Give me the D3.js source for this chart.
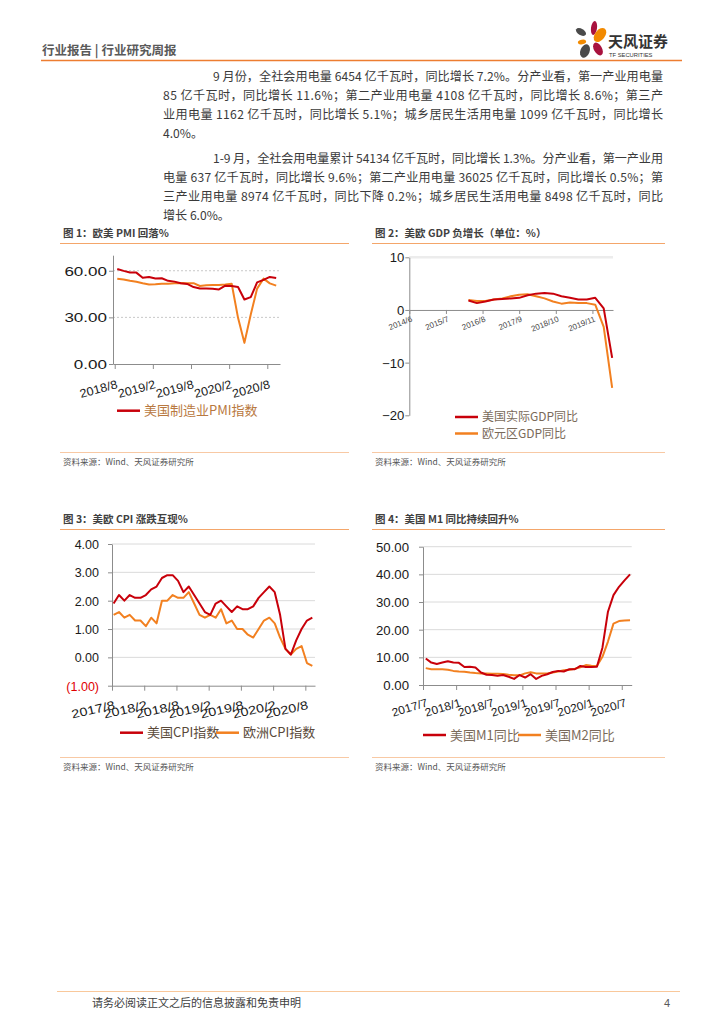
<!DOCTYPE html>
<html>
<head>
<meta charset="utf-8">
<script src="https://cdn.jsdelivr.net/npm/d3@7"></script>
<style>
  body { margin: 0; background: #fff; }
  svg { display: block; }
</style>
</head>
<body>
<script>
// helpers for month labels
function monthList(y, m, n) {
  const out = [];
  for (let k = 0; k < n; k++) {
    const t = (m - 1) + k;
    out.push((y + Math.floor(t / 12)) + '/' + (t % 12 + 1));
  }
  return out;
}
function monthIndex(label, base) {
  const [y, m] = label.split('/').map(Number);
  const [by, bm] = base.split('/').map(Number);
  return (y - by) * 12 + (m - bm);
}

// data: chart 1 PMI
const pmiMonths = monthList(2018, 8, 26);
const usPmi = [61.1, 59.9, 58.9, 58.8, 55.5, 56.0, 55.0, 55.2, 53.5, 53.0, 52.0, 51.5, 49.5,
               48.6, 48.5, 48.4, 48.0, 50.4, 50.2, 49.5, 41.5, 43.0, 52.5, 54.1, 56.0, 55.4];
const euPmi = [54.8, 54.3, 53.5, 52.9, 51.9, 51.1, 51.3, 51.6, 51.6, 51.9, 52.1, 51.9, 52.0,
               50.2, 50.7, 50.8, 50.9, 51.1, 51.6, 29.7, 13.6, 31.9, 48.5, 54.9, 51.9, 50.4];
const pmiTicks = ['2018/8', '2019/2', '2019/8', '2020/2', '2020/8'];

// data: chart 2 GDP
const gdpQuarters = ['2016/3', '2016/6', '2016/9', '2016/12', '2017/3', '2017/6', '2017/9', '2017/12', '2018/3',
                     '2018/6', '2018/9', '2018/12', '2019/3', '2019/6', '2019/9', '2019/12', '2020/3', '2020/6'];
const usGdp = [1.8, 1.3, 1.6, 2.0, 2.1, 2.2, 2.3, 2.8, 3.1, 3.2, 3.1, 2.6, 2.3, 2.0, 2.0, 2.3, 0.3, -9.1];
const euGdp = [1.9, 1.7, 1.7, 2.0, 2.2, 2.6, 2.9, 3.0, 2.6, 2.2, 1.6, 1.2, 1.4, 1.3, 1.3, 1.0, -3.2, -14.8];
const gdpTicks = ['2014/6', '2015/7', '2016/8', '2017/9', '2018/10', '2019/11'];

// data: chart 3 CPI
const cpiMonths = monthList(2017, 8, 38);
const usCpi = [1.9, 2.2, 2.0, 2.2, 2.1, 2.1, 2.2, 2.4, 2.5, 2.8, 2.9, 2.9, 2.7, 2.3, 2.5, 2.2, 1.9, 1.6, 1.5,
               1.9, 2.0, 1.8, 1.6, 1.8, 1.7, 1.7, 1.8, 2.1, 2.3, 2.5, 2.3, 1.5, 0.3, 0.1, 0.6, 1.0, 1.3, 1.4];
const euCpi = [1.5, 1.6, 1.4, 1.5, 1.3, 1.3, 1.1, 1.4, 1.2, 2.0, 2.0, 2.2, 2.1, 2.1, 2.3, 1.9, 1.5, 1.4, 1.5,
               1.4, 1.7, 1.2, 1.3, 1.0, 1.0, 0.8, 0.7, 1.0, 1.3, 1.4, 1.2, 0.7, 0.3, 0.1, 0.3, 0.4, -0.2, -0.3];
const cpiTicks = ['2017/8', '2018/2', '2018/8', '2019/2', '2019/8', '2020/2', '2020/8'];

// data: chart 4 M1 / M2
const mMonths = monthList(2017, 7, 38);
const usM1 = [9.6, 8.1, 7.6, 8.1, 8.6, 8.1, 8.0, 6.5, 6.6, 6.3, 4.5, 3.7, 3.6, 3.3, 3.6, 3.0, 2.2, 3.6, 2.7,
              3.9, 2.2, 3.3, 3.9, 4.7, 5.1, 4.9, 5.7, 5.7, 6.9, 6.5, 6.5, 6.6, 13.5, 26.5, 32.5, 35.5, 37.8, 40.0];
const usM2 = [6.1, 5.7, 5.7, 5.7, 5.5, 5.1, 4.9, 4.8, 4.5, 4.3, 4.2, 4.2, 4.1, 4.1, 4.0, 3.7, 3.5, 3.5, 4.2,
              4.6, 4.2, 4.2, 4.2, 4.5, 4.9, 5.3, 5.5, 5.9, 6.4, 7.2, 7.0, 6.9, 10.2, 15.7, 22.2, 23.1, 23.3, 23.4];
const mTicks = ['2017/7', '2018/1', '2018/7', '2019/1', '2019/7', '2020/1', '2020/7'];

// text
const para1 = [
  '9 月份，全社会用电量 6454 亿千瓦时，同比增长 7.2%。分产业看，第一产业用电量',
  '85 亿千瓦时，同比增长 11.6%；第二产业用电量 4108 亿千瓦时，同比增长 8.6%；第三产',
  '业用电量 1162 亿千瓦时，同比增长 5.1%；城乡居民生活用电量 1099 亿千瓦时，同比增长',
  '4.0%。'
];
const para2 = [
  '1-9 月，全社会用电量累计 54134 亿千瓦时，同比增长 1.3%。分产业看，第一产业用',
  '电量 637 亿千瓦时，同比增长 9.6%；第二产业用电量 36025 亿千瓦时，同比增长 0.5%；第',
  '三产业用电量 8974 亿千瓦时，同比下降 0.2%；城乡居民生活用电量 8498 亿千瓦时，同比',
  '增长 6.0%。'
];

// const
const CN = "'Noto Sans CJK SC','Noto Sans',sans-serif";
const NUM = "'Liberation Sans',Arial,sans-serif";
const RED = '#c8000a';
const ORANGE = '#f28020';
const AXIS = '#8c8c8c';

const svg = d3.select('body').append('svg')
  .attr('width', 724)
  .attr('height', 1024)

// header
svg.append('text')
  .attr('x', 42).attr('y', 55)
  .attr('font-family', CN).attr('font-size', 12.5).attr('font-weight', 'bold').attr('fill', '#5a5a5a')
  .text('行业报告 | 行业研究周报')
svg.append('line')
  .attr('x1', 41).attr('x2', 682).attr('y1', 60.5).attr('y2', 60.5)
  .attr('stroke', '#ed7d31').attr('stroke-width', 1.6)

// logo
const logo = svg.append('g')
const petals = [
  [594, 28, 3, 7, 8, '#a8123e'],
  [600, 35, 5, 8, 38, '#f28a00'],
  [581, 32, 5.5, 3.2, 30, '#4a4a4a'],
  [582, 42, 4.2, 2.2, -12, '#f28a00'],
  [585, 51, 4.6, 7, 22, '#4a4a4a'],
  [598, 49, 4, 7, -30, '#a8123e']
]
logo.selectAll('ellipse').data(petals).join('ellipse')
  .attr('cx', 0).attr('cy', 0)
  .attr('rx', d => d[2]).attr('ry', d => d[3])
  .attr('transform', d => `translate(${d[0]},${d[1]}) rotate(${d[4]})`)
  .attr('fill', d => d[5])
logo.append('text').attr('x', 608).attr('y', 47)
  .attr('font-family', CN).attr('font-size', 15).attr('font-weight', 'bold').attr('fill', '#333')
  .text('天风证券')
logo.append('text').attr('x', 609).attr('y', 57)
  .attr('font-family', NUM).attr('font-size', 5.8).attr('fill', '#333')
  .text('TF SECURITIES')

// paragraphs
function paragraph(lines, y0) {
  lines.forEach((t, i) => {
    const x0 = i === 0 ? 213 : 163
    const txt = svg.append('text')
      .attr('x', x0).attr('y', y0 + i * 19)
      .attr('font-family', CN).attr('font-size', 12.1).attr('fill', '#3a3a3a')
      .text(t)
    if (i < lines.length - 1) txt.attr('textLength', 663 - x0).attr('lengthAdjust', 'spacing')
  })
}
paragraph(para1, 81)
paragraph(para2, 163)

// chart frame: title, rules, source
function frame(left, right, titleY, title, bottomY) {
  svg.append('text').attr('x', left + 3).attr('y', titleY)
    .attr('font-family', CN).attr('font-size', 10.5).attr('font-weight', 'bold').attr('fill', '#404040')
    .text(title)
  svg.append('line').attr('x1', left).attr('x2', right).attr('y1', titleY + 6.5).attr('y2', titleY + 6.5)
    .attr('stroke', '#f4a66a').attr('stroke-width', 1)
  svg.append('line').attr('x1', left).attr('x2', right).attr('y1', bottomY).attr('y2', bottomY)
    .attr('stroke', '#f8c9a4').attr('stroke-width', 1)
  svg.append('text').attr('x', left + 3).attr('y', bottomY + 12.5)
    .attr('font-family', CN).attr('font-size', 8.5).attr('fill', '#555')
    .text('资料来源：Wind、天风证券研究所')
}

function legendItem(x, y, color, label, textColor, size) {
  svg.append('line').attr('x1', x).attr('x2', x + 23).attr('y1', y).attr('y2', y)
    .attr('stroke', color).attr('stroke-width', 2.5)
  svg.append('text').attr('x', x + 27).attr('y', y).attr('dy', '0.36em')
    .attr('font-family', CN).attr('font-size', size).attr('fill', textColor)
    .text(label)
}

function styleAxis(g) {
  g.select('.domain').attr('stroke', AXIS)
  g.selectAll('.tick line').attr('stroke', AXIS)
}

function yAxis(x0, y, ticks, fmt, o) {
  svg.append('g')
    .attr('transform', `translate(${x0},0)`)
    .call(d3.axisLeft(y).tickValues(ticks).tickSize(4).tickSizeOuter(0).tickFormat(fmt))
    .call(styleAxis)
    .call(g => g.selectAll('.tick text')
      .attr('x', null).attr('dy', '0.36em')
      .attr('transform', `translate(${-o.gap},0) scale(${o.sx},1)`)
      .attr('font-family', NUM).attr('font-size', o.size)
      .attr('fill', d => o.colorOf ? o.colorOf(d) : '#1a1a1a'))
}

function xAxis(y0, x, ticks, labels, o) {
  svg.append('g')
    .attr('transform', `translate(0,${y0})`)
    .call(d3.axisBottom(x).tickValues(ticks).tickSize(o.tick).tickSizeOuter(0).tickFormat((d, i) => labels[i]))
    .call(styleAxis)
    .call(g => g.selectAll('.tick text')
      .attr('y', null).attr('dy', null)
      .attr('text-anchor', 'end')
      .attr('transform', `translate(${o.dx},${o.dy}) rotate(${o.rot}) scale(${o.sx},1)`)
      .attr('font-family', NUM).attr('font-size', o.size).attr('fill', o.color))
}

function grid(x1, x2, y, ticks, color, dash, w) {
  svg.append('g').selectAll('line').data(ticks).join('line')
    .attr('x1', x1).attr('x2', x2)
    .attr('y1', d => y(d)).attr('y2', d => y(d))
    .attr('stroke', color).attr('stroke-width', w || 1)
    .attr('stroke-dasharray', dash)
}

function series(values, xOf, y, color) {
  svg.append('path')
    .datum(values)
    .attr('fill', 'none')
    .attr('stroke', color)
    .attr('stroke-width', 2)
    .attr('stroke-linejoin', 'round')
    .attr('d', d3.line().x((d, i) => xOf(i)).y(d => y(d)))
}

// ---- chart 1 ----
frame(60, 349, 237, '图 1：欧美 PMI 回落%', 452.5)
const x1 = d3.scaleLinear().domain([-0.27, 26]).range([113, 280])
const y1 = d3.scaleLinear().domain([0, 70]).range([364, 255.2])
grid(113, 280, y1, [60, 30], '#c8c8c8', '2,2')
yAxis(113, y1, [0, 30, 60], d3.format('.2f'), { gap: 6, size: 12, sx: 1.42 })
xAxis(364, x1, pmiTicks.map(t => monthIndex(t, '2018/8')), pmiTicks,
  { tick: 5, dx: 3, dy: 24, rot: -15, sx: 1.05, size: 12, color: '#1a1a1a' })
series(euPmi, i => x1(monthIndex(pmiMonths[i], '2018/8') + 0.4), y1, ORANGE)
series(usPmi, i => x1(monthIndex(pmiMonths[i], '2018/8') + 0.4), y1, RED)
legendItem(117, 410.7, RED, '美国制造业PMI指数', '#b87840', 13)

// ---- chart 2 ----
frame(372, 665, 237, '图 2：美欧 GDP 负增长（单位：%）', 452.5)
const x2 = d3.scaleLinear().domain([0, 72.3]).range([409.3, 613])
const y2 = d3.scaleLinear().domain([-20, 10]).range([415.3, 257.3])
grid(409.3, 613, y2, [10], '#ececec', null, 2.5)
yAxis(409.3, y2, [10, 0, -10, -20], d3.format('d'), { gap: 5, size: 12.5, sx: 1.05 })
xAxis(y2(0), x2, gdpTicks.map(t => monthIndex(t, '2014/6')), gdpTicks,
  { tick: 4, dx: 3, dy: 11, rot: -22, sx: 1, size: 8, color: '#444' })
series(euGdp, i => x2(monthIndex(gdpQuarters[i], '2014/6')), y2, ORANGE)
series(usGdp, i => x2(monthIndex(gdpQuarters[i], '2014/6')), y2, RED)
legendItem(455, 417, RED, '美国实际GDP同比', '#7a6a5a', 12)
legendItem(455, 433.5, ORANGE, '欧元区GDP同比', '#7a6a5a', 12)

// ---- chart 3 ----
frame(60, 349, 523, '图 3：美欧 CPI 涨跌互现%', 757.5)
const x3 = d3.scaleLinear().domain([0, 37.8]).range([112, 315])
const y3 = d3.scaleLinear().domain([-1, 4]).range([685.7, 544])
grid(112, 315, y3, [0, 1, 2, 3, 4], '#dadada')
yAxis(112, y3, [-1, 0, 1, 2, 3, 4], d => d < 0 ? '(' + d3.format('.2f')(-d) + ')' : d3.format('.2f')(d),
  { gap: 13, size: 12.5, sx: 1.0, colorOf: d => d < 0 ? '#e00000' : '#1a1a1a' })
xAxis(685.7, x3, cpiTicks.map(t => monthIndex(t, '2017/8')), cpiTicks,
  { tick: 5, dx: 3, dy: 23, rot: -13, sx: 1.2, size: 12, color: '#1a1a1a' })
series(euCpi, i => x3(monthIndex(cpiMonths[i], '2017/8') + 0.3), y3, ORANGE)
series(usCpi, i => x3(monthIndex(cpiMonths[i], '2017/8') + 0.3), y3, RED)
legendItem(120, 732.7, RED, '美国CPI指数', '#5a4a3a', 13)
legendItem(216, 732.7, ORANGE, '欧洲CPI指数', '#5a4a3a', 13)

// ---- chart 4 ----
frame(372, 665, 523, '图 4：美国 M1 同比持续回升%', 757.5)
const x4 = d3.scaleLinear().domain([0, 37.8]).range([423, 631.7])
const y4 = d3.scaleLinear().domain([0, 50]).range([685, 546.7])
grid(423, 631.7, y4, [10, 20, 30, 40, 50], '#dadada')
yAxis(423, y4, [0, 10, 20, 30, 40, 50], d3.format('.2f'), { gap: 14, size: 12, sx: 1.1 })
xAxis(685, x4, mTicks.map(t => monthIndex(t, '2017/7')), mTicks,
  { tick: 5, dx: 5, dy: 21, rot: -17, sx: 1.05, size: 11.5, color: '#1a1a1a' })
series(usM2, i => x4(monthIndex(mMonths[i], '2017/7') + 0.5), y4, ORANGE)
series(usM1, i => x4(monthIndex(mMonths[i], '2017/7') + 0.5), y4, RED)
legendItem(423, 735, RED, '美国M1同比', '#7a6a5a', 13)
legendItem(518, 735, ORANGE, '美国M2同比', '#7a6a5a', 13)

// footer
svg.append('line').attr('x1', 57).attr('x2', 680).attr('y1', 991.5).attr('y2', 991.5)
  .attr('stroke', '#f9c89b').attr('stroke-width', 1)
svg.append('text').attr('x', 92).attr('y', 1007)
  .attr('font-family', CN).attr('font-size', 11).attr('fill', '#404040')
  .text('请务必阅读正文之后的信息披露和免责申明')
svg.append('text').attr('x', 670).attr('y', 1007).attr('text-anchor', 'end')
  .attr('font-family', NUM).attr('font-size', 11).attr('fill', '#595959')
  .text('4')
</script>
</body>
</html>
